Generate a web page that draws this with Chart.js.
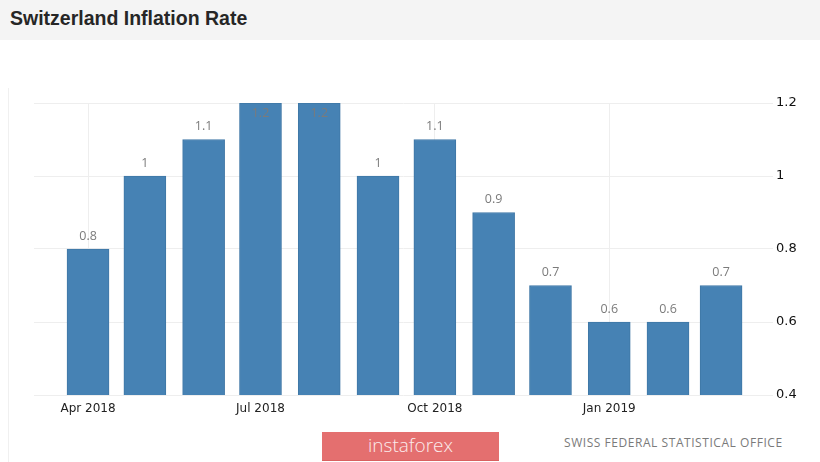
<!DOCTYPE html>
<html lang="en">
<head>
    <meta charset="UTF-8">
    <title>Switzerland Inflation Rate</title>
    <script src="https://cdn.jsdelivr.net/npm/chart.js"></script>
    <style>
        body { margin: 0; width: 820px; height: 462px; background: #fff; position: relative; overflow: hidden; }
        .header {
            position: absolute; left: 0; top: 0; width: 820px; height: 40px;
            background: #f4f4f4;
        }
        .header h1 {
            margin: 0; position: absolute; left: 10px; top: 7px;
            font: bold 19.5px "Liberation Sans", Arial, sans-serif; color: #262626;
        }
        .panel {
            position: absolute; left: 8px; top: 88px; width: 812px; height: 380px;
            border-left: 1px solid #f0f0f0;
        }
        .chartBox { position: absolute; left: 0; top: 88px; width: 820px; height: 340px; }
        .brand {
            position: absolute; left: 322px; top: 432px; width: 177px; height: 29px;
            background: #e46f6f; border-bottom: 1px solid #d86060;
            color: #fbecec; font: 300 19px "Open Sans", sans-serif; text-align: center; line-height: 27px;
            padding-left: 0; box-sizing: border-box;
        }
        .source {
            position: absolute; left: 564px; top: 434px;
            font: 12px "Open Sans", sans-serif; color: #7a7a7a; letter-spacing: 0.55px;
        }
    </style>
</head>
<body>
<div class="header"><h1>Switzerland Inflation Rate</h1></div>
<div class="panel"></div>
<div class="chartBox"><canvas id="inflationChart"></canvas></div>
<div class="brand">instaforex</div>
<div class="source">SWISS FEDERAL STATISTICAL OFFICE</div>
<script>
    var months = ["2018-04-01", "2018-05-01", "2018-06-01", "2018-07-01", "2018-08-01", "2018-09-01",
                  "2018-10-01", "2018-11-01", "2018-12-01", "2019-01-01", "2019-02-01", "2019-03-01"];
    var monthLabels = ["Apr 2018", "May 2018", "Jun 2018", "Jul 2018", "Aug 2018", "Sep 2018",
                       "Oct 2018", "Nov 2018", "Dec 2018", "Jan 2019", "Feb 2019", "Mar 2019"];
    var inflation = [0.8, 1, 1.1, 1.2, 1.2, 1, 1.1, 0.9, 0.7, 0.6, 0.6, 0.7];
    var labelledMonths = [0, 3, 6, 9];
    var yTicks = [0.4, 0.6, 0.8, 1, 1.2];

    // x position = days since the first month, like a time axis
    var dayMs = 86400000;
    var start = Date.parse(months[0]);
    function dayOf(i) { return Math.round((Date.parse(months[i]) - start) / dayMs); }

    var points = [];
    for (var i = 0; i < months.length; i++) {
        points.push({ x: dayOf(i), y: inflation[i] });
    }

    var valueLabels = {
        id: "valueLabels",
        afterDatasetsDraw: function(chart) {
            var ctx = chart.ctx;
            var meta = chart.getDatasetMeta(0);
            ctx.save();
            ctx.font = '12.5px "Open Sans", sans-serif';
            ctx.fillStyle = "#7b7b7b";
            ctx.textAlign = "center";
            ctx.textBaseline = "middle";
            meta.data.forEach(function(bar, i) {
                var y = Math.max(bar.y - 13, chart.chartArea.top + 10);
                ctx.fillText(String(inflation[i]), bar.x, y);
            });
            ctx.restore();
        }
    };

    new Chart(document.getElementById("inflationChart"), {
        type: "bar",
        data: {
            datasets: [{
                data: points,
                backgroundColor: "#4682b4",
                borderColor: "#3f77a6",
                borderWidth: 1,
                barThickness: 42
            }]
        },
        options: {
            responsive: true,
            maintainAspectRatio: false,
            animation: false,
            layout: { padding: { left: 34, top: 15, right: 0, bottom: 0 } },
            plugins: { legend: { display: false }, tooltip: { enabled: false } },
            scales: {
                x: {
                    type: "linear",
                    offset: false,
                    bounds: "ticks",
                    min: -28.5,
                    max: 361.4,
                    afterBuildTicks: function(axis) {
                        axis.ticks = labelledMonths.map(function(i) { return { value: dayOf(i) }; });
                    },
                    afterFit: function(axis) { axis.height = 33; },
                    grid: { color: "#eeeeee", drawTicks: false, offset: false },
                    border: { display: false },
                    ticks: {
                        padding: 7,
                        color: "#222",
                        font: { family: "DejaVu Sans", size: 12 },
                        callback: function(value) {
                            for (var i = 0; i < months.length; i++) {
                                if (dayOf(i) === value) return monthLabels[i];
                            }
                            return "";
                        }
                    }
                },
                y: {
                    position: "right",
                    min: 0.4,
                    max: 1.2,
                    afterBuildTicks: function(axis) {
                        axis.ticks = yTicks.map(function(v) { return { value: v }; });
                    },
                    afterFit: function(axis) { axis.width = 47; },
                    grid: { color: "#eeeeee", drawTicks: false },
                    border: { display: false },
                    ticks: {
                        padding: 3,
                        color: "#111",
                        font: { family: "DejaVu Sans", size: 13 },
                        callback: function(value) { return String(Math.round(value * 10) / 10); }
                    }
                }
            }
        },
        plugins: [valueLabels]
    });
</script>
</body>
</html>
